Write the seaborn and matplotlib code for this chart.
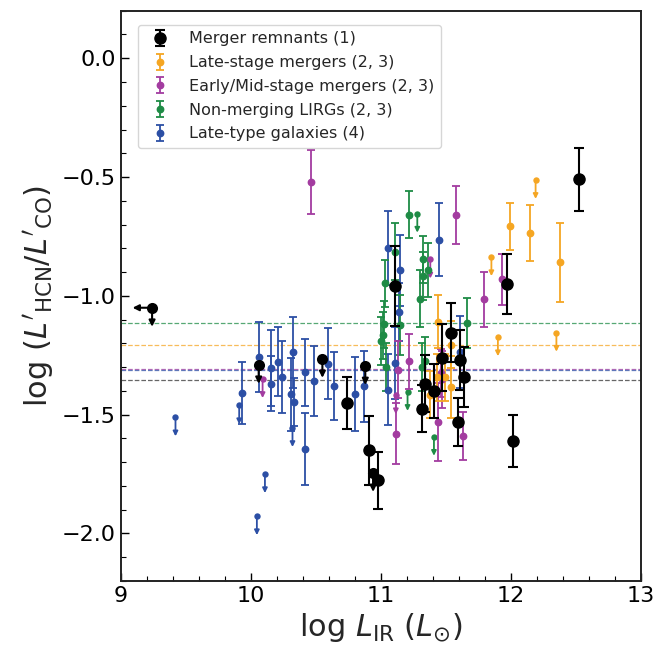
import matplotlib
matplotlib.use("Agg")
import matplotlib.pyplot as plt
from matplotlib.ticker import MultipleLocator
import seaborn as sns

sns.set_theme(style="white")
plt.rcParams["font.family"] = ["DejaVu Sans"]
plt.rcParams["mathtext.fontset"] = "dejavusans"

# Merger remnants (1)
mr_x = [10.74, 10.91, 10.98, 11.11, 11.34, 11.41, 11.32, 11.47, 11.54, 11.61, 11.64, 11.59, 11.97, 12.02, 12.52]
mr_y = [-1.45, -1.65, -1.775, -0.96, -1.37, -1.40, -1.475, -1.26, -1.155, -1.27, -1.34, -1.53, -0.95, -1.61, -0.51]
mr_err = [0.11, 0.145, 0.12, 0.168, 0.12, 0.115, 0.10, 0.14, 0.123, 0.126, 0.126, 0.10, 0.125, 0.11, 0.132]
mr_ul_x = [9.24, 10.06, 10.55, 10.88, 10.94]
mr_ul_y = [-1.05, -1.29, -1.265, -1.295, -1.745]
mr_xul = [True, False, False, False, False]

# Late-stage mergers (2, 3)
ls_x = [11.99, 12.15, 12.38, 11.44, 11.54, 11.54, 11.38, 11.43, 11.49]
ls_y = [-0.707, -0.737, -0.858, -1.108, -1.205, -1.383, -1.416, -1.343, -1.343]
ls_err = [0.098, 0.118, 0.166, 0.11, 0.10, 0.13, 0.10, 0.10, 0.10]
ls_ul_x = [12.19, 11.85, 11.90, 12.35]
ls_ul_y = [-0.512, -0.837, -1.174, -1.155]

# Early/Mid-stage mergers (2, 3)
em_x = [10.46, 11.13, 11.12, 11.22, 11.58, 11.93, 11.79, 11.44, 11.63, 11.46, 11.47]
em_y = [-0.52, -1.31, -1.58, -1.275, -0.66, -0.93, -1.015, -1.53, -1.59, -1.325, -1.35]
em_err = [0.134, 0.12, 0.128, 0.115, 0.123, 0.107, 0.116, 0.163, 0.10, 0.10, 0.12]
em_ul_x = [10.09, 11.115, 11.38]
em_ul_y = [-1.35, -1.418, -0.847]

# Non-merging LIRGs (2, 3)
nm_x = [11.11, 11.144, 11.03, 11.023, 11.018, 10.998, 11.04, 11.218, 11.325, 11.364, 11.321, 11.30, 11.338, 11.32, 11.659]
nm_y = [-0.814, -1.121, -0.948, -1.12, -1.166, -1.19, -1.30, -0.658, -0.847, -0.892, -0.917, -1.012, -1.274, -1.30, -1.113]
nm_err = [0.12, 0.126, 0.10, 0.10, 0.10, 0.10, 0.10, 0.098, 0.10, 0.113, 0.10, 0.12, 0.10, 0.10, 0.105]
nm_ul_x = [11.28, 11.205, 11.408]
nm_ul_y = [-0.654, -1.404, -1.593]

# Late-type galaxies (4)
lt_x = [9.93, 10.064, 10.156, 10.156, 10.21, 10.241, 10.308, 10.326, 10.333, 10.418, 10.42, 10.487,
        10.59, 10.638, 10.80, 10.872, 11.056, 11.146, 11.141, 11.052, 11.108, 11.446, 11.608]
lt_y = [-1.41, -1.257, -1.304, -1.37, -1.278, -1.341, -1.414, -1.238, -1.446, -1.322, -1.644, -1.36,
        -1.285, -1.38, -1.414, -1.381, -0.798, -0.892, -1.068, -1.395, -1.283, -0.763, -1.236]
lt_err = [0.13, 0.148, 0.16, 0.115, 0.145, 0.15, 0.154, 0.151, 0.10, 0.142, 0.15, 0.147,
          0.148, 0.142, 0.155, 0.15, 0.155, 0.15, 0.12, 0.15, 0.15, 0.153, 0.15]
lt_ul_x = [9.42, 9.91, 10.046, 10.108, 10.32]
lt_ul_y = [-1.511, -1.46, -1.927, -1.75, -1.556]

# dashed reference levels per sample
level_y = [-1.113, -1.207, -1.306, -1.314, -1.353]
level_colors = ["#1e8b45", "#f5a623", "#a33ca0", "#2c4fa5", "#333333"]

labels = ["Merger remnants (1)", "Late-stage mergers (2, 3)", "Early/Mid-stage mergers (2, 3)",
          "Non-merging LIRGs (2, 3)", "Late-type galaxies (4)"]
colors = ["black", "#f5a623", "#a33ca0", "#1e8b45", "#2c4fa5"]

ARROW_Y = 0.08
ARROW_X = 0.15


def plot_group(ax, x, y, err, ul_x, ul_y, color, label, big=False, xul=None):
    ms = 8 if big else 4.6
    cap = 3.6 if big else 2.6
    lw = 1.5 if big else 1.3
    z = 5 if big else 3
    h = ax.errorbar(x, y, yerr=err, fmt="o", color=color, ms=ms, capsize=cap,
                    elinewidth=lw, capthick=lw, label=label, zorder=z)
    sns.scatterplot(x=ul_x, y=ul_y, color=color, s=ms ** 2, linewidth=0,
                    ax=ax, zorder=z, legend=False)
    arrow = dict(arrowstyle="-|>", color=color, lw=lw, shrinkA=0, shrinkB=0,
                 mutation_scale=9 if big else 7)
    for i, (xi, yi) in enumerate(zip(ul_x, ul_y)):
        ax.annotate("", xy=(xi, yi - ARROW_Y), xytext=(xi, yi), arrowprops=arrow, zorder=z)
        if xul is not None and xul[i]:
            ax.annotate("", xy=(xi - ARROW_X, yi), xytext=(xi, yi), arrowprops=arrow, zorder=z)
    return h


fig, ax = plt.subplots(figsize=(6.57, 6.56), dpi=100)
fig.subplots_adjust(left=0.184, right=0.9755, bottom=0.1143, top=0.9837)

for yv, c in zip(level_y, level_colors):
    ax.axhline(yv, color=c, ls="--", lw=0.9, alpha=0.75, zorder=1)

h_lt = plot_group(ax, lt_x, lt_y, lt_err, lt_ul_x, lt_ul_y, colors[4], labels[4])
h_nm = plot_group(ax, nm_x, nm_y, nm_err, nm_ul_x, nm_ul_y, colors[3], labels[3])
h_em = plot_group(ax, em_x, em_y, em_err, em_ul_x, em_ul_y, colors[2], labels[2])
h_ls = plot_group(ax, ls_x, ls_y, ls_err, ls_ul_x, ls_ul_y, colors[1], labels[1])
h_mr = plot_group(ax, mr_x, mr_y, mr_err, mr_ul_x, mr_ul_y, colors[0], labels[0], big=True, xul=mr_xul)

ax.set_xlim(9, 13)
ax.set_ylim(-2.2, 0.2)
ax.xaxis.set_major_locator(MultipleLocator(1))
ax.xaxis.set_minor_locator(MultipleLocator(0.2))
ax.yaxis.set_major_locator(MultipleLocator(0.5))
ax.yaxis.set_minor_locator(MultipleLocator(0.1))
ax.tick_params(which="both", direction="in", left=True, bottom=True, top=False, right=False,
               labelsize=16, colors="black")
ax.tick_params(which="major", length=6, width=1.0)
ax.tick_params(which="minor", length=3.5, width=0.8)
for sp in ax.spines.values():
    sp.set_color("#222222")
    sp.set_linewidth(1.4)

ax.set_xlabel(r"log $L_{\rm IR}$ ($L_{\odot}$)", fontsize=22)
ax.set_ylabel(r"log ($L'_{\rm HCN}/L'_{\rm CO}$)", fontsize=22)

ax.legend([h_mr, h_ls, h_em, h_nm, h_lt], labels, loc="upper left",
          bbox_to_anchor=(0.033, 0.975), borderaxespad=0, fontsize=11.5,
          labelspacing=0.55, frameon=True, edgecolor="0.8", framealpha=0.8, fancybox=True)

fig.savefig("out.png", dpi=100)
